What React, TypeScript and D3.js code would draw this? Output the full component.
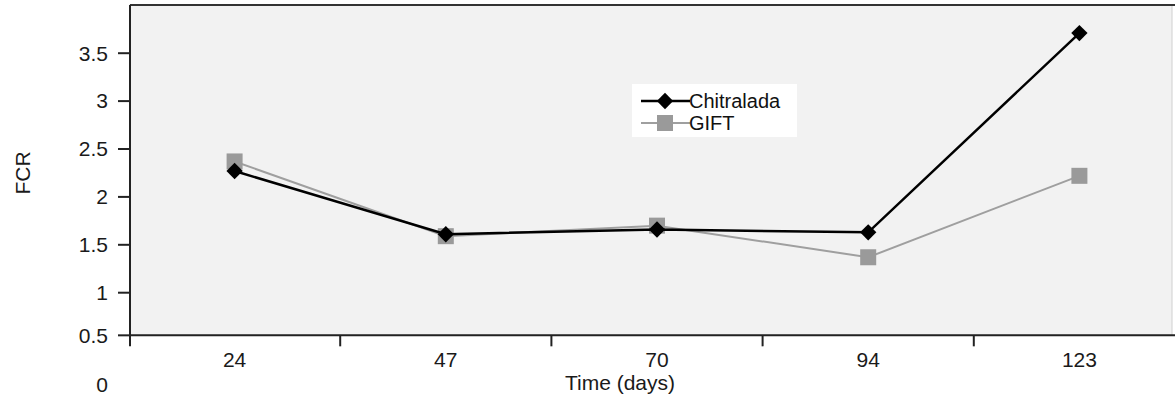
import React, { useEffect, useRef } from "react";
import * as d3 from "d3";

const days = ["24", "47", "70", "94", "123"];
const chitralada = [2.27, 1.61, 1.66, 1.63, 3.71];
const gift = [2.37, 1.59, 1.7, 1.37, 2.22];
const yTicks = [0.5, 1, 1.5, 2, 2.5, 3, 3.5];
const seriesNames = ["Chitralada", "GIFT"];

const FONT = "'Liberation Sans', Arial, sans-serif";

const FcrChart = () => {
  const svgRef = useRef<SVGSVGElement>(null);

  useEffect(() => {
    const width = 1175;
    const height = 397;
    const left = 130;
    const right = 1172;
    const top = 5;

    d3.select(svgRef.current).selectAll("*").remove();
    const svg = d3.select(svgRef.current).attr("width", width).attr("height", height);

    const x = d3.scaleBand<string>().domain(days).range([129, 1185]);
    const y = d3.scaleLinear().domain([0, 4]).range([388.5, 5.3]);
    // the category axis crosses a little above 0.5 in the original
    const axisBase = 0.555;
    const baseY = y(axisBase);
    const tickY = (v: number) => (v === 0.5 ? baseY : y(v));
    const cx = (d: string) => (x(d) as number) + x.bandwidth() / 2;

    // plot area
    svg
      .append("rect")
      .attr("x", left)
      .attr("y", top)
      .attr("width", right - left)
      .attr("height", baseY - top)
      .attr("fill", "#f2f2f2")
      .attr("stroke", "#d0d0d0")
      .attr("stroke-width", 1);
    svg
      .append("line")
      .attr("x1", left)
      .attr("x2", width)
      .attr("y1", top)
      .attr("y2", top)
      .attr("stroke", "#333")
      .attr("stroke-width", 2);

    // y axis
    svg
      .append("line")
      .attr("x1", left)
      .attr("x2", left)
      .attr("y1", top)
      .attr("y2", baseY + 11)
      .attr("stroke", "#222")
      .attr("stroke-width", 2);
    const yt = svg.selectAll("g.ytick").data(yTicks).join("g").attr("class", "ytick");
    yt.append("line")
      .attr("x1", left - 12)
      .attr("x2", left)
      .attr("y1", (d) => tickY(d))
      .attr("y2", (d) => tickY(d))
      .attr("stroke", "#222")
      .attr("stroke-width", 2);
    yt.append("text")
      .attr("x", 108)
      .attr("y", (d) => tickY(d))
      .attr("dy", "0.35em")
      .attr("text-anchor", "end")
      .style("font", `21px ${FONT}`)
      .attr("fill", "#1a1a1a")
      .text((d) => String(d));
    svg
      .append("text")
      .attr("x", 108)
      .attr("y", y(0))
      .attr("dy", "0.15em")
      .attr("text-anchor", "end")
      .style("font", `21px ${FONT}`)
      .attr("fill", "#1a1a1a")
      .text("0");

    svg
      .append("text")
      .attr("transform", `translate(30, ${y(2.25)}) rotate(-90)`)
      .attr("text-anchor", "middle")
      .style("font", `21px ${FONT}`)
      .attr("fill", "#1a1a1a")
      .text("FCR");

    // x axis
    svg
      .append("line")
      .attr("x1", left)
      .attr("x2", width)
      .attr("y1", baseY)
      .attr("y2", baseY)
      .attr("stroke", "#222")
      .attr("stroke-width", 2);
    svg
      .selectAll("line.xtick")
      .data(days.slice(1))
      .join("line")
      .attr("class", "xtick")
      .attr("x1", (d) => x(d) as number)
      .attr("x2", (d) => x(d) as number)
      .attr("y1", baseY)
      .attr("y2", baseY + 11)
      .attr("stroke", "#222")
      .attr("stroke-width", 2);
    svg
      .selectAll("text.xlabel")
      .data(days)
      .join("text")
      .attr("class", "xlabel")
      .attr("x", (d) => cx(d))
      .attr("y", baseY + 24)
      .attr("dy", "0.35em")
      .attr("text-anchor", "middle")
      .style("font", `21px ${FONT}`)
      .attr("fill", "#1a1a1a")
      .text((d) => d);
    svg
      .append("text")
      .attr("x", 620)
      .attr("y", baseY + 47)
      .attr("dy", "0.35em")
      .attr("text-anchor", "middle")
      .style("font", `21px ${FONT}`)
      .attr("fill", "#1a1a1a")
      .text("Time (days)");

    // series
    const line = d3
      .line<number>()
      .x((_, i) => cx(days[i]))
      .y((d) => y(d));

    svg
      .append("path")
      .datum(gift)
      .attr("d", line)
      .attr("fill", "none")
      .attr("stroke", "#9f9f9f")
      .attr("stroke-width", 2);
    svg
      .selectAll("rect.gift")
      .data(gift)
      .join("rect")
      .attr("class", "gift")
      .attr("x", (_, i) => cx(days[i]) - 8)
      .attr("y", (d) => y(d) - 8)
      .attr("width", 16)
      .attr("height", 16)
      .attr("fill", "#9a9a9a");

    svg
      .append("path")
      .datum(chitralada)
      .attr("d", line)
      .attr("fill", "none")
      .attr("stroke", "#000")
      .attr("stroke-width", 2.5);
    const diamond = d3.symbol().type(d3.symbolDiamond2).size(170);
    svg
      .selectAll("path.chit")
      .data(chitralada)
      .join("path")
      .attr("class", "chit")
      .attr("d", diamond)
      .attr("transform", (d, i) => `translate(${cx(days[i])}, ${y(d)})`)
      .attr("fill", "#000");

    // legend
    const lg = svg.append("g").attr("transform", "translate(632, 84)");
    lg.append("rect").attr("width", 165).attr("height", 53).attr("fill", "#fff");
    const items = lg
      .selectAll("g.item")
      .data(seriesNames)
      .join("g")
      .attr("class", "item")
      .attr("transform", (_, i) => `translate(0, ${17 + i * 22})`);
    items
      .append("line")
      .attr("x1", 9)
      .attr("x2", 58)
      .attr("stroke", (_, i) => (i === 0 ? "#000" : "#9f9f9f"))
      .attr("stroke-width", (_, i) => (i === 0 ? 2.5 : 2));
    items
      .filter((_, i) => i === 0)
      .append("path")
      .attr("d", diamond)
      .attr("transform", "translate(33, 0)")
      .attr("fill", "#000");
    items
      .filter((_, i) => i === 1)
      .append("rect")
      .attr("x", 25)
      .attr("y", -8)
      .attr("width", 16)
      .attr("height", 16)
      .attr("fill", "#9a9a9a");
    items
      .append("text")
      .attr("x", 57)
      .attr("dy", "0.35em")
      .style("font", `20px ${FONT}`)
      .attr("fill", "#111")
      .text((d) => d);
  }, []);

  return <svg ref={svgRef} style={{ position: "absolute", left: 0, top: 0 }} />;
};

export default function App() {
  return <FcrChart />;
}
